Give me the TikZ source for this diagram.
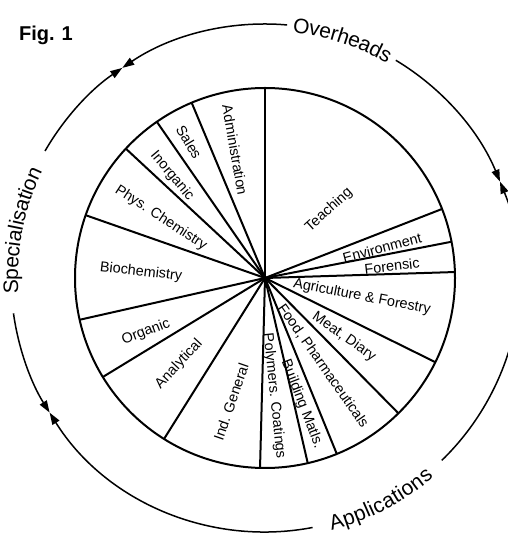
\documentclass[tikz,border=0pt]{standalone}
\usepackage{fontspec}
\setmainfont{Liberation Sans}
\usetikzlibrary{decorations.text,arrows.meta,calc}
\newcommand\outerfont{\fontsize{21}{24}\selectfont}
\begin{document}
\begin{tikzpicture}[x=1pt,y=1pt,
  seg/.style={line width=2pt},
  lbl/.style={font=\fontsize{14.4}{16}\selectfont, inner sep=0pt},
  ring/.style={line width=1.5pt},
  tipa/.style={ring, {Triangle[length=12pt,width=8pt]}-},
  tipb/.style={ring, -{Triangle[length=12pt,width=8pt]}},
  curved/.style={decorate, decoration={text along path, text align=center, raise=-7pt}}
]
\useasboundingbox (0,0) rectangle (508,535);
\coordinate (C) at (265,257);
% pie
\draw[seg] (C) circle[radius=190];
\foreach \a in {90,112.7,124.7,137.1,160.7,192.7,211.4,237.9,268.5,283,292.2,314.6,333.7,1.8,11,21.3}
  \draw[seg] (C) -- ($(C)+(\a:190)$);
% labels
\node[lbl, rotate=-80] (adm) at (235,385) {Administration};
\node[lbl, rotate=-59] (sal) at (189,393) {Sales};
\node[lbl, rotate=-50] (ino) at (172,359) {Inorganic};
\node[lbl, rotate=-33] (phy) at (161,317) {Phys. Chemistry};
\node[lbl, rotate=-6.5] (bio) at (141,263) {Biochemistry};
\node[lbl, rotate=21] (org) at (146,203) {Organic};
\node[lbl, rotate=47] (ana) at (179,171) {Analytical};
\node[lbl, rotate=71] (ind) at (231,133) {Ind. General};
\node[lbl, rotate=-84] (pol) at (274,139) {Polymers. Coatings};
\node[lbl, rotate=-69] (bui) at (302,131) {Building Matls.};
\node[lbl, rotate=-55] (foo) at (323,169) {Food, Pharmaceuticals};
\node[lbl, rotate=-35] (mea) at (344,198) {Meat, Diary};
\node[lbl, rotate=-11] (agr) at (362,238) {Agriculture \& Forestry};
\node[lbl, rotate=6.5] (for) at (392,269) {Forensic};
\node[lbl, rotate=15] (env) at (382,287) {Environment};
\node[lbl, rotate=42] (tea) at (329,325) {Teaching};
% outer ring
\draw[tipa] ($(C)+(124.2:254)$) arc[start angle=124.2, end angle=85, radius=254];
\draw[tipb] ($(C)+(59:254)$) arc[start angle=59, end angle=22.3, radius=254];
\draw[tipa] ($(C)+(22.3:254)$) arc[start angle=22.3, end angle=-45.9, radius=254];
\draw[tipb] ($(C)+(-79.2:254)$) arc[start angle=-79.2, end angle=-148, radius=254];
\draw[tipa] ($(C)+(212:254)$) arc[start angle=212, end angle=188, radius=254];
\draw[tipb] ($(C)+(150:254)$) arc[start angle=150, end angle=124.2, radius=254];
% ring texts
\path[curved, decoration={text={|\outerfont|Overheads}}] ($(C)+(100:254)$) arc[start angle=100, end angle=44, radius=254];
\path[curved, decoration={text={|\outerfont|Applications}}] ($(C)+(265:254)$) arc[start angle=265, end angle=330, radius=254];
\path[curved, decoration={text={|\outerfont|Specialisation}}] ($(C)+(200:254)$) arc[start angle=200, end angle=138, radius=254];
% title
\node[font=\bfseries\fontsize{20}{22}\selectfont, inner sep=0pt] (fig) at (46,500) {Fig.\hspace{7pt}1};
\end{tikzpicture}
\end{document}
